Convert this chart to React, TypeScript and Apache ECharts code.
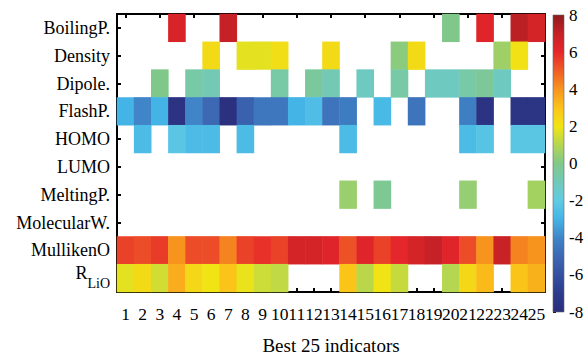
import React, { useEffect, useRef } from "react";
import * as echarts from "echarts";

const rowNames = ["BoilingP.", "Density", "Dipole.", "FlashP.", "HOMO", "LUMO", "MeltingP.", "MolecularW.", "MullikenO", "R_LiO"];
const colLabels = ["1","2","3","4","5","6","7","8","9","10","11","12","13","14","15","16","17","18","19","20","21","22","23","24","25"];
const colorbarTicks = [-8, 8, 2];

const n = null;
const boilingP = [n,n,n,6.4,n,n,7.0,n,n,n,n,n,n,n,n,n,n,n,n,0.0,n,6.2,n,7.2,6.5];
const density = [n,n,n,n,n,2.3,n,1.8,1.8,2.2,n,n,2.3,n,n,n,0.2,2.3,n,n,n,n,0.6,2.1,n];
const dipole = [n,n,0.0,n,-0.6,-0.9,n,n,n,-0.6,n,-0.4,-0.9,n,-1.2,n,-0.6,n,-1.2,-1.2,-0.6,-0.3,-1.2,n,n];
const flashP = [-3.0,-4.0,-3.0,-7.6,-4.0,-5.0,-7.8,-5.3,-4.5,-4.5,-3.0,-2.6,-4.6,-4.3,n,-2.8,n,-4.6,n,n,-4.2,-7.6,n,-7.5,-7.5];
const homo = [n,-2.7,n,-2.2,-2.7,-2.7,n,-2.7,n,n,n,n,n,-2.7,n,n,n,n,n,n,-2.7,-2.3,n,-2.2,-2.2];
const lumo = [n,n,n,n,n,n,n,n,n,n,n,n,n,n,n,n,n,n,n,n,n,n,n,n,n];
const meltingP = [n,n,n,n,n,n,n,n,n,n,n,n,n,0.5,n,-0.2,n,n,n,n,0.4,n,n,n,0.7];
const molecularW = [n,n,n,n,n,n,n,n,n,n,n,n,n,n,n,n,n,n,n,n,n,n,n,n,n];
const mullikenO = [5.5,5.3,5.6,4.0,5.3,5.3,4.3,5.5,5.8,5.5,6.5,6.5,6.2,5.2,6.2,5.5,6.0,6.5,7.0,6.2,5.3,4.0,6.9,4.3,4.0];
const rLiO = [1.8,2.3,1.5,3.5,2.4,2.0,3.0,1.9,1.4,1.2,n,n,n,3.0,1.1,2.0,1.3,n,n,1.0,2.4,3.2,n,3.0,3.4];

const rows = [boilingP, density, dipole, flashP, homo, lumo, meltingP, molecularW, mullikenO, rLiO];

// colormap from -8 to 8, one stop per unit
const cmap = [
  "#2a2e7c", "#2d3a8c", "#3450a0", "#3c68b4", "#3f85c8", "#44b4e6", "#5fcbe3", "#72c9b8",
  "#80c88a", "#b4d650", "#f0e415", "#fbc419", "#f7941e", "#ef5d26", "#e5262a", "#c52126", "#8e1b1e",
];

const FONT = "Liberation Serif";

export default function App() {
  const ref = useRef<HTMLDivElement>(null);
  useEffect(() => {
    if (!ref.current) return;
    const chart = echarts.init(ref.current, undefined, { renderer: "svg" });
    const data: any[] = [];
    rows.forEach((r, yi) => r.forEach((v, xi) => { if (v !== null) data.push([xi, yi, v]); }));

    // gradient from top (max) to bottom (min), offsets ascending
    const stops = cmap.slice().reverse().map((c, i) => ({ offset: i / (cmap.length - 1), color: c }));
    const grad = new echarts.graphic.LinearGradient(0, 0, 0, 1, stops);

    const catAxisCommon = {
      type: "category",
      boundaryGap: true,
      axisLine: { show: true, lineStyle: { color: "#000", width: 2 } },
      axisTick: { show: true, inside: true, alignWithLabel: true, length: 4, lineStyle: { color: "#000", width: 2 } },
      splitLine: { show: false },
    };

    chart.setOption({
      animation: false,
      backgroundColor: "#fff",
      grid: [
        { left: 117, top: 14, width: 428, height: 298 },
        { left: 553, top: 15, width: 11, height: 297 },
      ],
      visualMap: {
        type: "continuous",
        show: false,
        min: -8,
        max: 8,
        seriesIndex: 0,
        inRange: { color: cmap },
      },
      xAxis: [
        {
          ...catAxisCommon, gridIndex: 0, position: "bottom", data: colLabels,
          axisLabel: { interval: 0, color: "#000", fontFamily: FONT, fontSize: 17.5, margin: 13, hideOverlap: false },
          name: "Best 25 indicators", nameLocation: "middle", nameGap: 44,
          nameTextStyle: { color: "#000", fontFamily: FONT, fontSize: 19 },
        },
        { ...catAxisCommon, gridIndex: 0, position: "top", data: colLabels, axisLabel: { show: false } },
        { type: "value", gridIndex: 1, min: 0, max: 1, show: false },
      ],
      yAxis: [
        {
          ...catAxisCommon, gridIndex: 0, position: "left", inverse: true, data: rowNames,
          axisLabel: {
            color: "#000", fontFamily: FONT, fontSize: 18, margin: 7,
            formatter: (v: string) => (v === "R_LiO" ? "{r|R}{s|LiO}" : v),
            rich: {
              r: { fontFamily: FONT, fontSize: 18, color: "#000", padding: [0, 0, 10, 0] },
              s: { fontFamily: FONT, fontSize: 14, color: "#000", padding: [10, 0, 0, 0] },
            },
          },
        },
        { ...catAxisCommon, gridIndex: 0, position: "right", inverse: true, data: rowNames, axisLabel: { show: false } },
        {
          type: "value", gridIndex: 1, position: "right", min: colorbarTicks[0], max: colorbarTicks[1], interval: colorbarTicks[2],
          axisLine: { show: false },
          axisTick: { show: true, length: 3, lineStyle: { color: "#000", width: 1 } },
          splitLine: { show: false },
          axisLabel: { color: "#000", fontFamily: FONT, fontSize: 17, margin: 5 },
        },
      ],
      series: [
        {
          type: "heatmap",
          xAxisIndex: 0,
          yAxisIndex: 0,
          data,
          itemStyle: { borderWidth: 0 },
          emphasis: { disabled: true },
        },
        {
          type: "custom",
          xAxisIndex: 2,
          yAxisIndex: 2,
          data: [[0, colorbarTicks[0], colorbarTicks[1]]],
          renderItem: (params: any, api: any) => {
            const p0 = api.coord([0, api.value(2)]);
            const p1 = api.coord([1, api.value(1)]);
            return {
              type: "rect",
              shape: { x: p0[0], y: p0[1], width: p1[0] - p0[0], height: p1[1] - p0[1] },
              style: { fill: grad, stroke: "#666", lineWidth: 0.6 },
            };
          },
        },
      ],
    });
    return () => chart.dispose();
  }, []);
  return <div ref={ref} style={{ width: 588, height: 360, position: "absolute", left: 0, top: 0 }} />;
}
